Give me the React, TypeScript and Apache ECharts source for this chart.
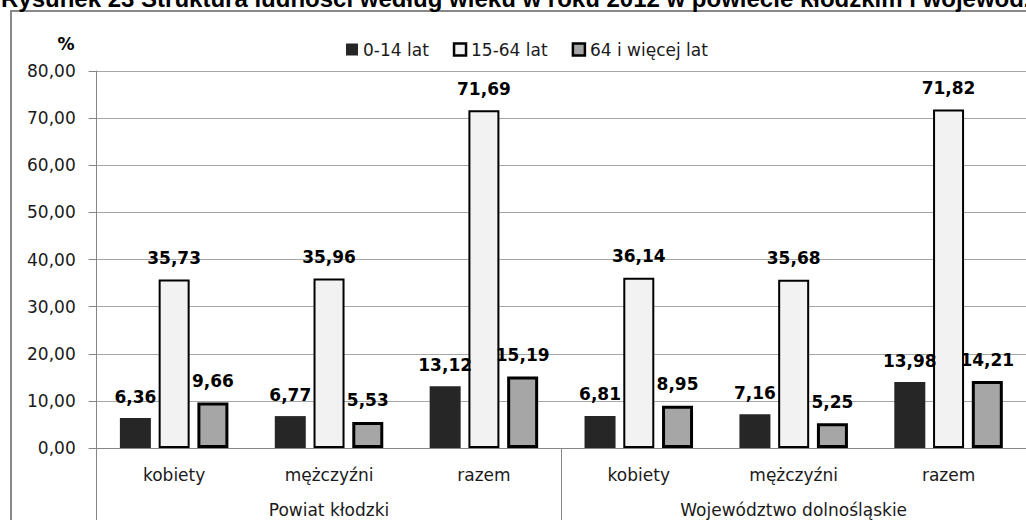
import React, { useEffect, useRef } from "react";
import * as echarts from "echarts";

const categories = ["kobiety", "mężczyźni", "razem", "kobiety", "mężczyźni", "razem"];
const groups = ["Powiat kłodzki", "Województwo dolnośląskie"];
const seriesNames = ["0-14 lat", "15-64 lat", "64 i więcej lat"];
const young = [6.36, 6.77, 13.12, 6.81, 7.16, 13.98];
const working = [35.73, 35.96, 71.69, 36.14, 35.68, 71.82];
const old = [9.66, 5.53, 15.19, 8.95, 5.25, 14.21];
const titleText =
  "Rysunek 23 Struktura ludności według wieku w roku 2012 w powiecie kłodzkim i województwie dolnośląskim";

const FONT = "DejaVu Sans";
const fmt = (v: number) => v.toFixed(2).replace(".", ",");

export default function App() {
  const ref = useRef<HTMLDivElement>(null);
  useEffect(() => {
    if (!ref.current) return;
    const chart = echarts.init(ref.current, null, { renderer: "svg" });
    const label = {
      show: true,
      position: "top",
      distance: 13,
      fontFamily: FONT,
      fontSize: 17,
      fontWeight: "bold",
      color: "#000",
      formatter: (p: any) => fmt(p.value),
    };
    const styles = [
      { color: "#262626", borderColor: "#262626", borderWidth: 0 },
      { color: "#f2f2f2", borderColor: "#000", borderWidth: 2 },
      { color: "#a6a6a6", borderColor: "#000", borderWidth: 3 },
    ];
    const datas = [young, working, old];
    chart.setOption({
      animation: false,
      backgroundColor: "#fff",
      graphic: [
        {
          type: "rect",
          shape: { x: 11, y: 11, width: 1200, height: 700 },
          style: { fill: "none", stroke: "#888", lineWidth: 2 },
          silent: true,
        },
        {
          type: "text",
          x: 1,
          y: -2,
          style: {
            text: titleText,
            font: "bold 24px 'Liberation Sans', Arial, sans-serif",
            fill: "#000",
            verticalAlign: "middle",
            align: "left",
          },
        },
        {
          type: "text",
          x: 66,
          y: 44,
          style: {
            text: "%",
            font: `bold 17px '${FONT}'`,
            fill: "#000",
            verticalAlign: "middle",
            align: "center",
          },
        },
      ],
      legend: {
        top: 36,
        left: 341,
        icon: "rect",
        itemWidth: 12,
        itemHeight: 12,
        itemGap: 24,
        textStyle: { fontFamily: FONT, fontSize: 17, color: "#1a1a1a" },
        data: seriesNames.map((n, i) => ({
          name: n,
          itemStyle: { ...styles[i], borderWidth: i === 0 ? 0 : 2.5 },
        })),
      },
      grid: { left: 96.7, right: -7, top: 71, bottom: 72, containLabel: false },
      xAxis: [
        {
          type: "category",
          data: categories,
          axisLine: { show: true, lineStyle: { color: "#868686", width: 1 } },
          axisTick: { show: false },
          axisLabel: {
            interval: 0,
            margin: 18,
            fontFamily: FONT,
            fontSize: 17,
            color: "#1a1a1a",
          },
        },
        {
          type: "category",
          data: groups,
          position: "bottom",
          axisLine: { show: false },
          axisTick: {
            show: true,
            length: 90,
            lineStyle: { color: "#868686", width: 1 },
          },
          axisLabel: {
            interval: 0,
            margin: 53,
            fontFamily: FONT,
            fontSize: 17,
            color: "#1a1a1a",
          },
        },
      ],
      yAxis: {
        type: "value",
        min: 0,
        max: 80,
        interval: 10,
        axisLine: { show: true, lineStyle: { color: "#868686", width: 1 } },
        axisTick: { show: true, length: 8, lineStyle: { color: "#868686" } },
        splitLine: { show: true, lineStyle: { color: "#a6a6a6", width: 1 } },
        axisLabel: {
          margin: 21,
          fontFamily: FONT,
          fontSize: 17,
          color: "#1a1a1a",
          formatter: (v: number) => fmt(v),
        },
      },
      series: seriesNames.map((n, i) => ({
        name: n,
        type: "bar",
        xAxisIndex: 0,
        data: datas[i],
        barWidth: 31,
        barGap: "25%",
        itemStyle: styles[i],
        label,
      })),
    });
    return () => chart.dispose();
  }, []);
  return (
    <div
      ref={ref}
      style={{ position: "fixed", left: 0, top: 0, width: 1026, height: 520 }}
    />
  );
}
